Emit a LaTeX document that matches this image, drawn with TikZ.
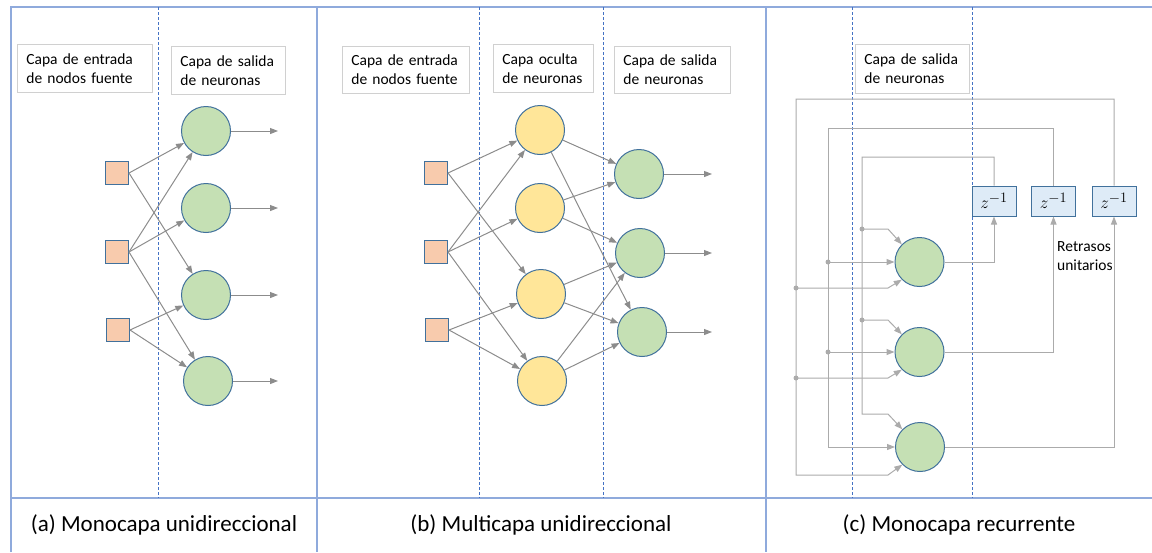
\documentclass[tikz,border=0pt]{standalone}
\usepackage{fontspec}
\setmainfont{Carlito}
\usetikzlibrary{arrows.meta}
\definecolor{panelblue}{HTML}{8FAADC}
\definecolor{dashblue}{HTML}{4472C4}
\definecolor{nodeborder}{HTML}{41719C}
\definecolor{inputfill}{HTML}{F8CBAD}
\definecolor{outfill}{HTML}{C5E0B4}
\definecolor{hidfill}{HTML}{FFE699}
\definecolor{zfill}{HTML}{DEEBF7}
\definecolor{boxgray}{HTML}{D0D0D0}
\definecolor{arrgray}{HTML}{8C8C8C}
\definecolor{recgray}{HTML}{ABABAB}
\begin{document}
\begin{tikzpicture}[x=1pt,y=-1pt,
 inp/.style={draw=nodeborder, fill=inputfill, line width=1pt, minimum size=23pt, inner sep=0pt},
 neu/.style={circle, draw=nodeborder, fill=outfill, line width=1pt, minimum size=49pt, inner sep=0pt},
 hid/.style={neu, fill=hidfill},
 zbox/.style={draw=nodeborder, fill=zfill, line width=1pt, minimum width=44pt, minimum height=30pt, inner sep=0pt, font=\fontsize{19}{19}\selectfont},
 lbl/.style={draw=boxgray, fill=white, line width=0.8pt, align=left, inner xsep=9pt, inner ysep=0pt, font=\fontsize{15.5}{19}\selectfont, anchor=north west},
 arr/.style={draw=arrgray, line width=1pt, -{Triangle[length=8pt,width=6pt]}},
 rec/.style={draw=recgray, line width=1pt},
 reca/.style={rec, -{Triangle[length=8pt,width=6pt]}},
 jdot/.style={circle, fill=recgray, inner sep=0pt, minimum size=5pt},
 panelline/.style={draw=panelblue, line width=2.5pt},
 sepline/.style={draw=dashblue, line width=0.8pt, dash pattern=on 3pt off 2pt},
 captxt/.style={font=\fontsize{23}{23}\selectfont, inner sep=0pt}
]
\useasboundingbox (0,0) rectangle (1152,552);

% panel frame
\draw[panelline] (11,552) -- (11,7) -- (1152,7);
\draw[panelline] (317,7) -- (317,552);
\draw[panelline] (766,7) -- (766,552);
\draw[panelline] (11,498) -- (1152,498);

% dashed separators
\foreach \x in {158,479,603,852,972}
  \draw[sepline] (\x,7) -- (\x,498);

% ---------- panel (a) ----------
\node[lbl, text width=117pt, minimum height=48pt] (la1) at (17,44) {Capa de entrada\\de nodos fuente};
\node[lbl, text width=96pt, minimum height=48pt] (la2) at (171,46) {Capa de salida\\de neuronas};

\node[inp] (as1) at (117,173) {};
\node[inp] (as2) at (117,252) {};
\node[inp] (as3) at (118,330) {};
\node[neu] (ac1) at (206,131) {};
\node[neu] (ac2) at (206,208) {};
\node[neu] (ac3) at (206,295) {};
\node[neu] (ac4) at (208,381) {};
\coordinate (ao1) at (278,131);
\coordinate (ao2) at (278,208);
\coordinate (ao3) at (278,295);
\coordinate (ao4) at (278,381);

\draw[arr] (as1.east) -- (ac1);
\draw[arr] (as1.east) -- (ac3);
\draw[arr] (as2.east) -- (ac1);
\draw[arr] (as2.east) -- (ac2);
\draw[arr] (as2.east) -- (ac4);
\draw[arr] (as3.east) -- (ac3);
\draw[arr] (as3.east) -- (ac4);
\draw[arr] (ac1.east) -- (ao1);
\draw[arr] (ac2.east) -- (ao2);
\draw[arr] (ac3.east) -- (ao3);
\draw[arr] (ac4.east) -- (ao4);

% ---------- panel (b) ----------
\node[lbl, text width=109pt, minimum height=47pt] (lb1) at (342,46) {Capa de entrada\\de nodos fuente};
\node[lbl, text width=82pt, minimum height=48pt] (lb2) at (493,44) {Capa oculta\\de neuronas};
\node[lbl, text width=98pt, minimum height=47pt] (lb3) at (614,46) {Capa de salida\\de neuronas};

\node[inp] (bs1) at (436,173) {};
\node[inp] (bs2) at (436,252) {};
\node[inp] (bs3) at (437,330) {};
\node[hid] (bh1) at (540,130) {};
\node[hid] (bh2) at (540,208) {};
\node[hid] (bh3) at (541,294) {};
\node[hid] (bh4) at (542,381) {};
\node[neu] (bo1) at (639,174) {};
\node[neu] (bo2) at (640,253) {};
\node[neu] (bo3) at (642,332) {};
\coordinate (bx1) at (712,174);
\coordinate (bx2) at (712,253);
\coordinate (bx3) at (712,332);

\draw[arr] (bs1.east) -- (bh1);
\draw[arr] (bs1.east) -- (bh3);
\draw[arr] (bs2.east) -- (bh1);
\draw[arr] (bs2.east) -- (bh2);
\draw[arr] (bs2.east) -- (bh4);
\draw[arr] (bs3.east) -- (bh3);
\draw[arr] (bs3.east) -- (bh4);
\draw[arr] (bh1) -- (bo1);
\draw[arr] (bh1) -- (bo3);
\draw[arr] (bh2) -- (bo1);
\draw[arr] (bh2) -- (bo2);
\draw[arr] (bh3) -- (bo2);
\draw[arr] (bh3) -- (bo3);
\draw[arr] (bh4) -- (bo2);
\draw[arr] (bh4) -- (bo3);
\draw[arr] (bo1.east) -- (bx1);
\draw[arr] (bo2.east) -- (bx2);
\draw[arr] (bo3.east) -- (bx3);

% ---------- panel (c) ----------
\node[lbl, text width=96pt, minimum height=49pt] (lc1) at (855,44) {Capa de salida\\de neuronas};

\node[neu] (cn1) at (919.5,262) {};
\node[neu] (cn2) at (919.5,352) {};
\node[neu] (cn3) at (920,447) {};
\node[zbox] (z1) at (994,201) {$z^{-1}$};
\node[zbox] (z2) at (1053.5,201) {$z^{-1}$};
\node[zbox] (z3) at (1114,201) {$z^{-1}$};
\node[font=\fontsize{15.5}{19}\selectfont, align=left, anchor=west, inner sep=0pt] (ret) at (1057,256) {Retrasos\\unitarios};

% outputs to delays
\draw[reca] (cn1.east) -| (z1.south);
\draw[reca] (cn2.east) -| (z2.south);
\draw[reca] (cn3.east) -| (z3.south);

% loop 1 (from z1)
\coordinate (l1t) at (862,157);
\coordinate (l1b) at (862,414);
\coordinate (l1d1) at (862,229);
\coordinate (l1d2) at (862,320);
\draw[reca] (z1.north) |- (l1t) -- (l1b) -- ++(26,0) -- (cn3.135);
\draw[reca] (l1d1) -- ++(26,0) -- (cn1.135);
\draw[reca] (l1d2) -- ++(26,0) -- (cn2.135);
\node[jdot] (d11) at (l1d1) {};
\node[jdot] (d12) at (l1d2) {};

% loop 2 (from z2)
\coordinate (l2t) at (828,128);
\coordinate (l2b) at (828,447);
\coordinate (l2d1) at (828,262);
\coordinate (l2d2) at (828,352);
\draw[reca] (z2.north) |- (l2t) -- (l2b) -- (cn3.west);
\draw[reca] (l2d1) -- (cn1.west);
\draw[reca] (l2d2) -- (cn2.west);
\node[jdot] (d21) at (l2d1) {};
\node[jdot] (d22) at (l2d2) {};

% loop 3 (from z3)
\coordinate (l3t) at (796,99);
\coordinate (l3b) at (796,475);
\coordinate (l3d1) at (796,288);
\coordinate (l3d2) at (796,378);
\draw[reca] (z3.north) |- (l3t) -- (l3b) -- ++(92,0) -- (cn3.225);
\draw[reca] (l3d1) -- ++(92,0) -- (cn1.225);
\draw[reca] (l3d2) -- ++(92,0) -- (cn2.225);
\node[jdot] (d31) at (l3d1) {};
\node[jdot] (d32) at (l3d2) {};

% captions
\node[captxt] (capa) at (164,525) {(a) Monocapa unidireccional};
\node[captxt] (capb) at (541,525) {(b) Multicapa unidireccional};
\node[captxt] (capc) at (959,525) {(c) Monocapa recurrente};
\end{tikzpicture}
\end{document}
